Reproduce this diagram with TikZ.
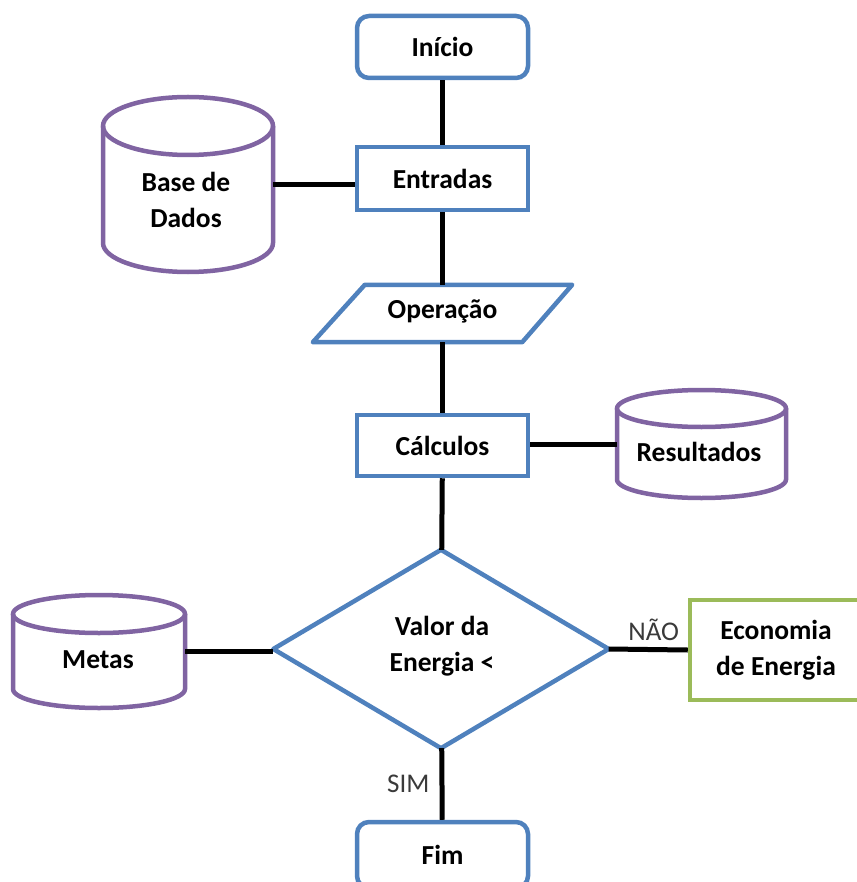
\documentclass[tikz,border=0pt]{standalone}
\usepackage{fontspec}
\setmainfont{Carlito}
\usetikzlibrary{calc}
\definecolor{boxblue}{HTML}{4F81BD}
\definecolor{cylpurple}{HTML}{8064A2}
\definecolor{ecogreen}{HTML}{9BBB59}
\definecolor{lbl}{HTML}{3A3A3A}
\tikzset{
  txt/.style={font=\bfseries\fontsize{27.5}{36}\selectfont, align=center, inner sep=0pt, text=black},
  box/.style={txt, draw=boxblue, line width=4.5pt, fill=white, minimum width=171pt},
  rbox/.style={box, rounded corners=12pt},
  ghost/.style={inner sep=0pt, draw=none},
  cylline/.style={draw=cylpurple, line width=4.5pt},
  conn/.style={draw=black, line width=5pt},
  flowlbl/.style={font=\fontsize{27}{30}\selectfont, text=lbl, inner sep=0pt}
}
\begin{document}
\begin{tikzpicture}[x=1pt,y=1pt]
\useasboundingbox (0,0) rectangle (856,-882);

% main boxes
\node[rbox, minimum height=62pt] (ini) at (442.5,-47) {Início};
\node[box, minimum height=63pt] (ent) at (442.5,-178.5) {Entradas};
\node[box, minimum height=61pt] (calc) at (442.5,-445.5) {Cálculos};
\node[rbox, minimum height=66pt] (fim) at (442.5,-855) {Fim};

% parallelogram
\node[ghost, minimum width=259pt, minimum height=57pt] (op) at (442.5,-313.5) {};
\draw[draw=boxblue, line width=4.5pt, line join=round]
  ($(op.north west)+(52,0)$) -- (op.north east) -- ($(op.south east)+(-50,0)$) -- (op.south west) -- cycle;
\node[txt] (opt) at (442.5,-311) {Operação};

% decision diamond
\node[ghost, minimum width=335pt, minimum height=198pt] (dec) at (441,-649) {};
\draw[draw=boxblue, line width=4.5pt, line join=round]
  (dec.north) -- (dec.east) -- (dec.south) -- (dec.west) -- cycle;
\node[txt] (dect) at (442,-646.5) {Valor da\\Energia <};

% economy box
\node[txt, draw=ecogreen, line width=4.5pt, minimum width=172pt, minimum height=100pt] (eco) at (776,-650) {Economia\\de Energia};

% cylinder: Base de Dados
\node[ghost, minimum width=170pt, minimum height=175pt] (bd) at (188,-184.5) {};
\draw[cylline] (103,-126) -- (103,-243) arc[start angle=180,end angle=360,x radius=85,y radius=29] -- (273,-126);
\draw[cylline] (188,-126) ellipse[x radius=85,y radius=29];
\node[txt] (bdt) at (186,-200) {Base de\\Dados};

% cylinder: Resultados
\node[ghost, minimum width=169pt, minimum height=108pt] (res) at (701.5,-444) {};
\draw[cylline] (617,-408.5) -- (617,-479.5) arc[start angle=180,end angle=360,x radius=84.5,y radius=18.5] -- (786,-408.5);
\draw[cylline] (701.5,-408.5) ellipse[x radius=84.5,y radius=18.5];
\node[txt] (rest) at (699,-452) {Resultados};

% cylinder: Metas
\node[ghost, minimum width=172pt, minimum height=113pt] (met) at (99,-651.5) {};
\draw[cylline] (13,-614) -- (13,-689) arc[start angle=180,end angle=360,x radius=86,y radius=19] -- (185,-614);
\draw[cylline] (99,-614) ellipse[x radius=86,y radius=19];
\node[txt] (mett) at (98,-660) {Metas};

% connectors
\draw[conn] (ini) -- (ent);
\draw[conn] (ent) -- (op);
\draw[conn] (op) -- (calc);
\draw[conn] (calc) -- (dec);
\draw[conn] (dec) -- node[flowlbl, midway, left=10pt] {SIM} (fim);
\draw[conn] (bd.east) -- (bd.east -| ent.west);
\draw[conn] (res.west) -- (res.west -| calc.east);
\draw[conn] (met.east) -- (met.east -| dec.west);
\draw[conn] (dec.east) -- node[flowlbl, pos=0.57, above=6pt] {NÃO} (eco.west);
\end{tikzpicture}
\end{document}
